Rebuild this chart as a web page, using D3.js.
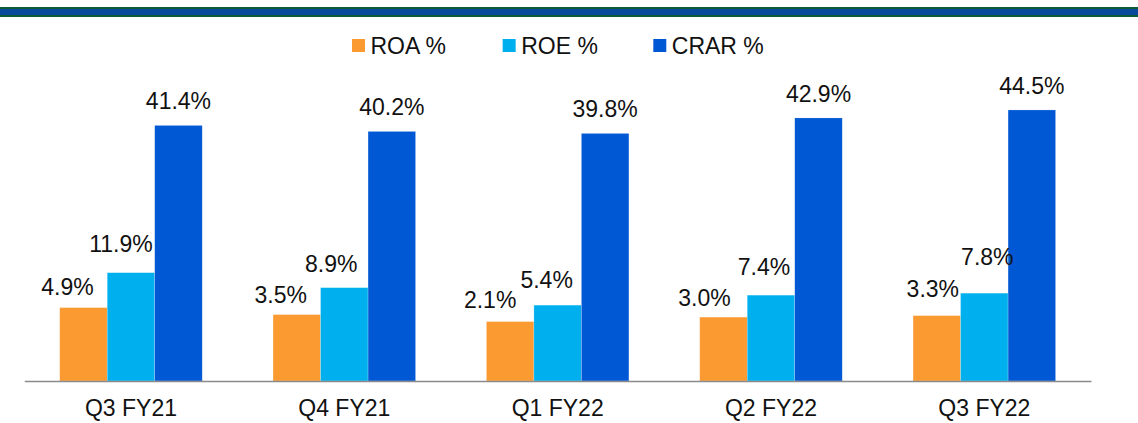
<!DOCTYPE html>
<html>
<head>
<meta charset="utf-8">
<script src="https://cdn.jsdelivr.net/npm/d3@7"></script>
<style>
  html, body { margin: 0; padding: 0; background: #fff; }
  svg { display: block; font-family: "Liberation Sans", Arial, sans-serif; }
</style>
</head>
<body>
<svg id="chart" width="1138" height="423"></svg>
<script>
// Quarterly ratios
const quarters = ["Q3 FY21", "Q4 FY21", "Q1 FY22", "Q2 FY22", "Q3 FY22"];
const seriesNames = ["ROA %", "ROE %", "CRAR %"];
const roa = [4.9, 3.5, 2.1, 3.0, 3.3];
const roe = [11.9, 8.9, 5.4, 7.4, 7.8];
const crar = [41.4, 40.2, 39.8, 42.9, 44.5];

const seriesValues = [roa, roe, crar];
const colors = ["#FA9A31", "#00B0EE", "#0058D4"];

// value-label placement (horizontal shift from bar centre, gap above bar top)
const labelDx = [[-16, -16, -20, -19, -4], [-10, -13, -11, -7, 3], [0, 0, 0, 0, 0]];
const labelGap = [[13, 12, 14, 11, 19], [21, 16, 17, 20, 28], [16, 16, 16, 16, 16]];

const svg = d3.select("#chart");
const W = 1138;

// header rule
svg.append("rect").attr("x", 0).attr("y", 7).attr("width", W).attr("height", 10).attr("fill", "#0E5A33");
svg.append("rect").attr("x", 0).attr("y", 9).attr("width", W).attr("height", 6).attr("fill", "#0A4A9C");

const baseY = 381;
const x = d3.scaleBand().domain(quarters).range([24.3, 1091]).paddingInner(0.332).paddingOuter(0.166);
const xs = d3.scaleBand().domain(seriesNames).range([0, x.bandwidth()]).padding(0);
const y = d3.scaleLinear().domain([-9.8, 50]).range([baseY, 82.5]);

const rows = [];
seriesNames.forEach((s, si) => {
  quarters.forEach((q, qi) => {
    rows.push({ s, si, q, qi, v: seriesValues[si][qi] });
  });
});

const g = svg.append("g");
g.selectAll("rect.bar").data(rows).join("rect")
  .attr("class", "bar")
  .attr("x", d => x(d.q) + xs(d.s))
  .attr("width", xs.bandwidth())
  .attr("y", d => y(d.v))
  .attr("height", d => baseY - y(d.v))
  .attr("fill", d => colors[d.si])
  .attr("stroke", "#ffffff")
  .attr("stroke-opacity", 0.35)
  .attr("stroke-width", 0.6);

g.selectAll("text.val").data(rows).join("text")
  .attr("class", "val")
  .attr("x", d => x(d.q) + xs(d.s) + xs.bandwidth() / 2 + labelDx[d.si][d.qi])
  .attr("y", d => y(d.v) - labelGap[d.si][d.qi])
  .attr("text-anchor", "middle")
  .attr("font-size", 23)
  .attr("fill", "#111")
  .text(d => d.v.toFixed(1) + "%");

// category axis
const axis = svg.append("g").attr("transform", `translate(0,${baseY})`)
  .call(d3.axisBottom(x).tickSize(0).tickPadding(19));
axis.select(".domain").attr("stroke", "#8a8a8a").attr("stroke-width", 1.6);
axis.selectAll("text").attr("font-size", 23).attr("fill", "#111")
  .attr("font-family", "Liberation Sans, Arial, sans-serif");

// legend
const legend = svg.append("g");
const legendX = d3.scalePoint().domain(seriesNames).range([352, 653.3]);
const li = legend.selectAll("g").data(seriesNames).join("g")
  .attr("transform", d => `translate(${legendX(d)},39)`);
li.append("rect").attr("width", 13).attr("height", 13).attr("fill", (d, i) => colors[i]);
li.append("text").attr("x", 18.5).attr("y", 15.3).attr("font-size", 23).attr("fill", "#111").text(d => d);
</script>
</body>
</html>
